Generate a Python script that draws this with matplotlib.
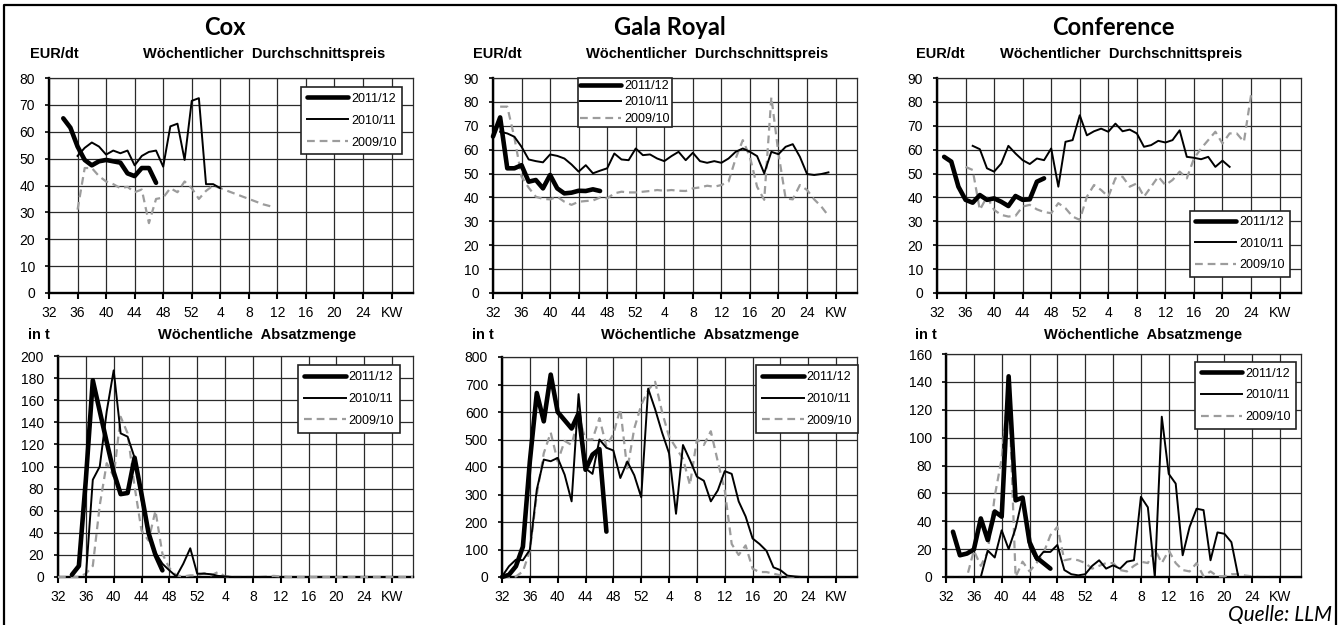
import numpy as np
import matplotlib
matplotlib.use('Agg')
import matplotlib.pyplot as plt
from matplotlib.lines import Line2D

plt.rcParams['font.family'] = ['Liberation Sans', 'DejaVu Sans']

W, H = 1338, 625
N_WEEKS = 52  # KW 32 .. KW 31 of the next year

week_ticks = list(range(0, 52, 4))
week_labels = ['32', '36', '40', '44', '48', '52', '4', '8', '12', '16', '20', '24', 'KW']
seasons = ['2011/12', '2010/11', '2009/10']
varieties = ['Cox', 'Gala Royal', 'Conference']

# ---- weekly average price, EUR/dt (*_start = week index where the series begins)
cox_price_1112_start = 2
cox_price_1112 = [65, 61.5, 54.5, 49.5, 47.5, 49, 49.5, 49, 48.5, 44.5, 43.5, 46.5, 46.5, 41]
cox_price_1011_start = 4
cox_price_1011 = [51, 54, 56, 54.5, 51.5, 53, 52, 53, 47.5, 51, 52.5, 53, 47, 62, 63,
                  49.5, 71.5, 72.5, 40.5, 40.5, 39]
cox_price_0910_start = 4
cox_price_0910 = [31, 46.5, 46.5, 43.5, 41.5, 40.5, 39, 39.5, 37.5, 38.5, 26, 35, 35.5, 39,
                  37.5, 41.5, 39, 35, 38, 40, 39, 38, 37, 36, 35, 34, 33, 32.3]

gala_price_1112_start = 0
gala_price_1112 = [65.5, 73.5, 52.2, 52.2, 53.5, 46.6, 47.3, 43.8, 49.4, 43.8, 41.7, 42,
                   42.8, 42.7, 43.4, 42.7]
gala_price_1011_start = 1
gala_price_1011 = [67.5, 66.8, 65.4, 61.2, 55.9, 55.2, 54.7, 58, 57.4, 56.3, 53.8, 50.8,
                   53.5, 50.1, 51.2, 52.2, 58.4, 55.9, 55.6, 60.5, 57.7, 58, 56.3, 55.2,
                   57.3, 59.1, 55.6, 58.7, 55.2, 54.5, 55.2, 54.5, 56.3, 59.1, 60.5, 59.1,
                   57.3, 50.1, 59.1, 58.1, 61.2, 62.3, 57, 49.8, 49.4, 49.8, 50.5]
gala_price_0910_start = 1
gala_price_0910 = [78, 78, 65, 48.7, 44.1, 40.3, 39.4, 39.2, 40.3, 38.2, 36.9, 38.2, 38.5,
                   38.7, 40, 39.6, 41.7, 42.4, 42.1, 42.1, 42.4, 42.7, 43.1, 42.8, 43.1,
                   42.8, 42.7, 43.8, 44.2, 44.9, 44.5, 45.2, 46.6, 56.3, 64, 57, 44.5, 39,
                   82, 58.4, 39.6, 39.2, 45.2, 43.1, 39.2, 36.2, 32.3]

conf_price_1112_start = 1
conf_price_1112 = [57, 55, 44.5, 39, 37.8, 41, 39, 39.6, 38.2, 36.4, 40.6, 39, 39.2, 46.6, 48]
conf_price_1011_start = 5
conf_price_1011 = [61.6, 60.2, 52.2, 50.8, 54.2, 61.6, 58.4, 55.6, 54, 56.3, 55.6, 60.5,
                   44.5, 63.3, 64, 74.4, 66, 67.7, 68.8, 67.5, 70.9, 67.7, 68.4, 66.8,
                   61.2, 61.9, 63.7, 63, 64, 68.1, 57, 56.6, 56, 57, 52.8, 55.4, 52.8]
conf_price_0910_start = 4
conf_price_0910 = [52.8, 51.5, 34.8, 40.3, 34.8, 32.7, 32, 32.3, 36.2, 36.9, 35, 33.9, 33.4,
                   37.6, 35.5, 32, 30.6, 40.3, 45.2, 43.1, 40.3, 48, 48.7, 44.5, 45.9,
                   40.3, 44.5, 48.7, 45.2, 47.3, 50.8, 48, 56.3, 60.5, 64, 67.5, 62.6,
                   66.8, 66.8, 63.3, 82.8]

# ---- weekly sales volume, t
cox_vol_1112_start = 2
cox_vol_1112 = [2, 10, 88, 178, 150, 122, 95, 75, 76, 108, 75, 40, 20, 6]
cox_vol_1011_start = 4
cox_vol_1011 = [0, 88, 100, 150, 187, 130, 127, 108, 70, 40, 22, 12, 6, 0.5, 12, 26, 3, 3,
                2.5, 1, 0.5, 0, 0, 0, 0, 0, 0]
cox_vol_0910_start = 0
cox_vol_0910 = [0, 0, 0, 0, 3, 10, 65, 103, 91, 145, 130, 82, 42, 33, 60, 21, 8, 1.5, 0.5,
                1.5, 1.5, 3.5, 1.5, 4.5, 0.5, 0, 0, 0, 0, 0, 0.5, 1, 0.5, 0, 0, 0, 0, 0,
                0, 0, 0, 0, 0, 0, 0, 0, 0, 0, 0, 0, 0, 0]

gala_vol_1112_start = 0
gala_vol_1112 = [0, 8, 39, 110, 420, 669, 566, 736, 600, 570, 540, 595, 390, 445, 465, 165]
gala_vol_1011_start = 0
gala_vol_1011 = [2, 39, 63, 61, 99, 318, 427, 421, 433, 372, 275, 665, 395, 375, 500, 470,
                 460, 360, 420, 370, 290, 685, 610, 525, 450, 230, 480, 425, 365, 350, 275,
                 315, 385, 375, 275, 220, 140, 120, 95, 35, 25, 5, 2, 0, 0, 0, 0, 0, 0, 0,
                 0, 0]
gala_vol_0910_start = 0
gala_vol_0910 = [0, 0, 2, 20, 95, 300, 450, 525, 420, 495, 480, 585, 500, 500, 578, 475,
                 520, 612, 390, 540, 625, 680, 710, 600, 510, 470, 430, 335, 500, 480, 530,
                 420, 315, 120, 80, 115, 30, 18, 18, 12, 6, 2, 0, 0, 0, 0, 0, 0, 0, 0, 0, 0]

conf_vol_1112_start = 1
conf_vol_1112 = [32.5, 15.6, 16.8, 19.7, 42, 26.5, 47, 43.3, 144, 55, 57, 25, 14, 10, 6]
conf_vol_1011_start = 0
conf_vol_1011 = [0, 0, 0, 0, 0, 0, 19, 14, 33.5, 20, 35, 57, 21.5, 12, 18, 18, 23, 5, 2,
                 1.2, 2, 8, 12, 6, 8.4, 6, 11, 12, 57.5, 50, 0, 115, 74, 67, 15.6, 36, 49,
                 48, 12, 32, 31, 25, 0, 0, 0, 0, 0, 0, 0, 0, 0, 0]
conf_vol_0910_start = 0
conf_vol_0910 = [0, 0, 0, 0, 19, 8, 18, 58, 85, 138, 0, 11, 4, 10, 17, 30, 36, 12, 13, 12,
                 10, 6, 8, 10, 10, 5, 4, 8, 11, 10, 20, 10, 19, 10, 5, 4, 10, 0.5, 4, 0.5,
                 0.5, 2, 2, 1, 0.5, 0, 0, 0, 0, 0, 0, 0]


def series(start, vals):
    arr = np.full(N_WEEKS, np.nan)
    arr[start:start + len(vals)] = vals
    return arr


def fx(px):
    return px / W


def fy(py):
    return 1 - py / H


GRID = '#2a2a2a'

fig = plt.figure(figsize=(W / 100, H / 100), dpi=100)


def draw_panel(rect, s1112, s1011, s0910, ymax, ystep, leg_xy, leg_space, leg_pad):
    x0, y0, x1, y1 = rect
    ax = fig.add_axes([fx(x0), fy(y1), (x1 - x0) / W, (y1 - y0) / H])
    x = np.arange(N_WEEKS)
    h3, = ax.plot(x, s0910, color='#9c9c9c', lw=1.6, dashes=(3.5, 2.2), zorder=3,
                  clip_on=False, label=seasons[2])
    h2, = ax.plot(x, s1011, color='black', lw=1.4, zorder=4, clip_on=False,
                  solid_joinstyle='round', label=seasons[1])
    h1, = ax.plot(x, s1112, color='black', lw=3.3, zorder=5, clip_on=False,
                  solid_joinstyle='round', solid_capstyle='round', label=seasons[0])
    ax.set_xlim(0, N_WEEKS - 1)
    ax.set_ylim(0, ymax)
    ax.set_xticks(week_ticks)
    ax.set_xticklabels(week_labels)
    ax.set_yticks(np.arange(0, ymax + ystep / 2, ystep))
    ax.grid(True, color=GRID, lw=0.9)
    ax.set_axisbelow(True)
    for side in ['left', 'bottom']:
        ax.spines[side].set_color('black')
        ax.spines[side].set_linewidth(1.7)
    for side in ['top', 'right']:
        ax.spines[side].set_color(GRID)
        ax.spines[side].set_linewidth(0.9)
    ax.tick_params(axis='x', direction='out', length=4, width=1.5, pad=5.5, labelsize=10)
    ax.tick_params(axis='y', direction='out', length=3, width=1.2, pad=7, labelsize=10)
    leg = ax.legend(handles=[h1, h2, h3], loc='upper left',
                    bbox_to_anchor=(fx(leg_xy[0]), fy(leg_xy[1])),
                    bbox_transform=fig.transFigure, frameon=True, fancybox=False,
                    edgecolor='#222222', framealpha=1, fontsize=9, handlelength=3.3,
                    handletextpad=0.25, labelspacing=leg_space, borderpad=leg_pad,
                    borderaxespad=0)
    leg.get_frame().set_linewidth(1.2)
    leg.set_zorder(10)
    return ax


# top row: prices, bottom row: volumes (pixel boxes of the plot areas)
price_rects = [(49, 78, 413, 293), (493, 78, 857, 293), (937, 78, 1301, 293)]
vol_rects = [(58, 356, 413, 577), (502, 357, 857, 577), (946, 354, 1301, 577)]

draw_panel(price_rects[0], series(cox_price_1112_start, cox_price_1112),
           series(cox_price_1011_start, cox_price_1011),
           series(cox_price_0910_start, cox_price_0910), 80, 10, (301, 87), 0.8, 0.45)
draw_panel(price_rects[1], series(gala_price_1112_start, gala_price_1112),
           series(gala_price_1011_start, gala_price_1011),
           series(gala_price_0910_start, gala_price_0910), 90, 10, (578, 78), 0.36, 0.15)
draw_panel(price_rects[2], series(conf_price_1112_start, conf_price_1112),
           series(conf_price_1011_start, conf_price_1011),
           series(conf_price_0910_start, conf_price_0910), 90, 10, (1190, 211), 0.78, 0.4)

draw_panel(vol_rects[0], series(cox_vol_1112_start, cox_vol_1112),
           series(cox_vol_1011_start, cox_vol_1011),
           series(cox_vol_0910_start, cox_vol_0910), 200, 20, (298, 365), 0.78, 0.5)
draw_panel(vol_rects[1], series(gala_vol_1112_start, gala_vol_1112),
           series(gala_vol_1011_start, gala_vol_1011),
           series(gala_vol_0910_start, gala_vol_0910), 800, 100, (756, 365), 0.78, 0.5)
draw_panel(vol_rects[2], series(conf_vol_1112_start, conf_vol_1112),
           series(conf_vol_1011_start, conf_vol_1011),
           series(conf_vol_0910_start, conf_vol_0910), 160, 20, (1195, 362), 0.78, 0.45)

# texts
title_x = [225, 670, 1113]
unit_x_top = [30, 473, 916]
sub_x_top = [264, 707, 1121]
unit_x_bot = [28, 472, 915]
sub_x_bot = [257, 700, 1143]
for i, name in enumerate(varieties):
    fig.text(fx(title_x[i]), fy(35), name, ha='center', va='baseline', fontsize=17,
             fontweight='bold', family=['Lato', 'DejaVu Sans'])
    fig.text(fx(unit_x_top[i]), fy(58), 'EUR/dt', ha='left', va='baseline',
             fontsize=10.5, fontweight='bold')
    fig.text(fx(sub_x_top[i]), fy(58), 'Wöchentlicher  Durchschnittspreis', ha='center',
             va='baseline', fontsize=10.5, fontweight='bold')
    fig.text(fx(unit_x_bot[i]), fy(339), 'in t', ha='left', va='baseline',
             fontsize=10.5, fontweight='bold')
    fig.text(fx(sub_x_bot[i]), fy(339), 'Wöchentliche  Absatzmenge', ha='center',
             va='baseline', fontsize=10.5, fontweight='bold')

fig.text(fx(1332), fy(621), 'Quelle: LLM', ha='right', va='baseline', fontsize=15,
         style='italic', family=['Lato', 'DejaVu Sans'])

# outer frame (open at the bottom)
fig.add_artist(Line2D([fx(4), fx(4), fx(1336), fx(1336)], [fy(626), fy(5), fy(5), fy(626)],
                      color='black', lw=1.6, transform=fig.transFigure))

fig.savefig('out.png', dpi=100)
